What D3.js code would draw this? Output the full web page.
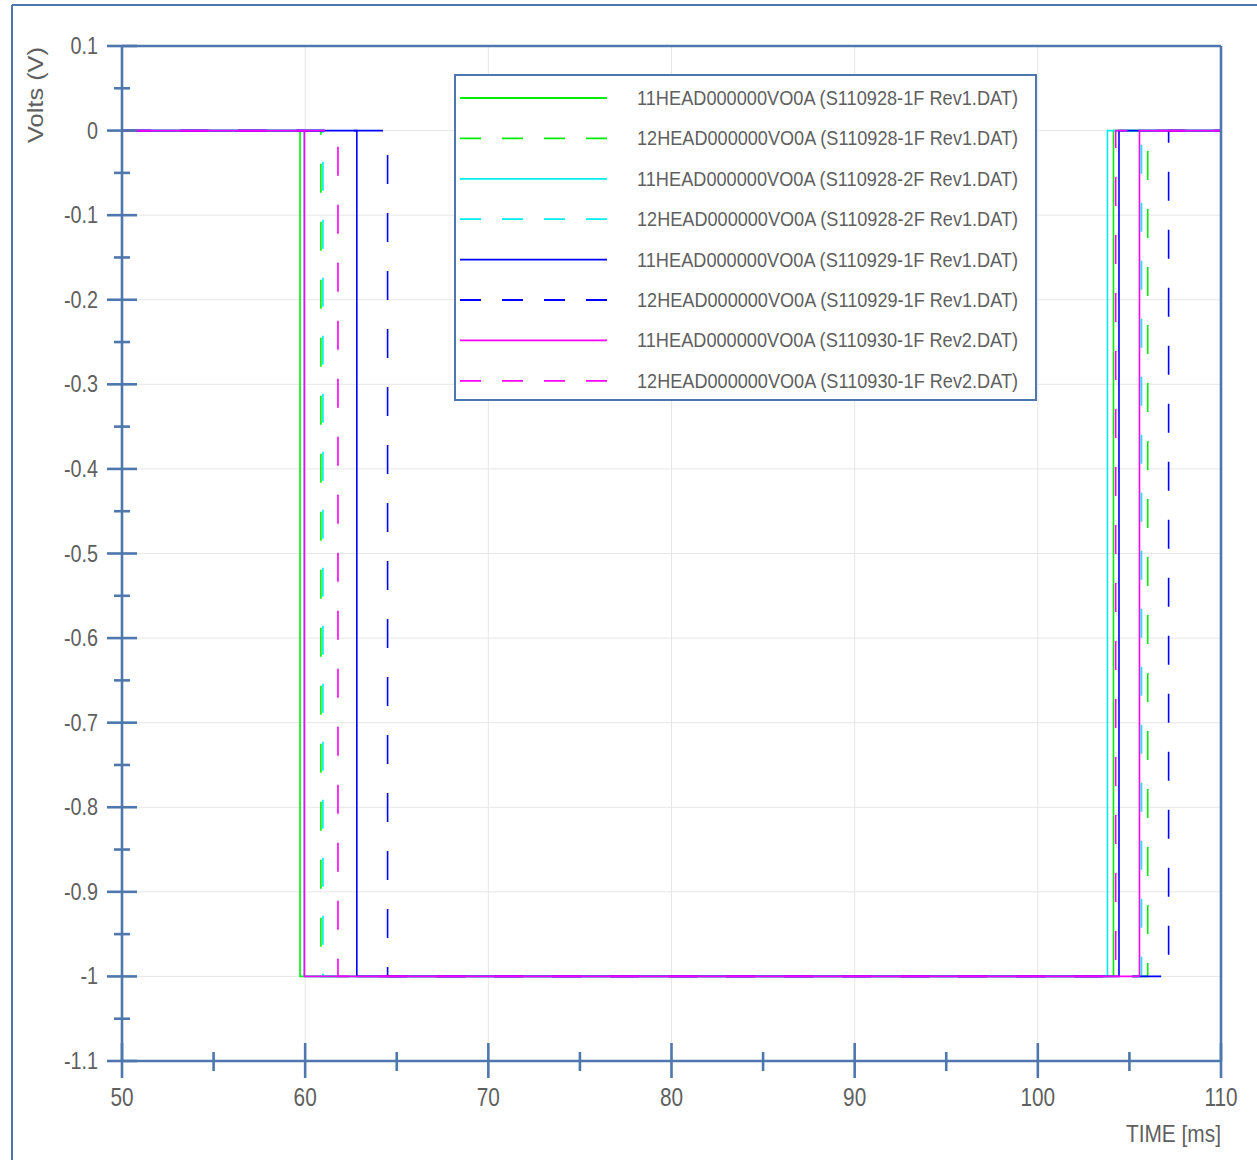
<!DOCTYPE html>
<html><head><meta charset="utf-8">
<script src="https://cdn.jsdelivr.net/npm/d3@7"></script>
<style>html,body{margin:0;padding:0;background:#fff;}svg{display:block;}</style>
</head><body>
<svg id="c" width="1257" height="1160"></svg>
<script>
// ---- data ----
const seriesNames = [
  "11HEAD000000VO0A (S110928-1F Rev1.DAT)",
  "12HEAD000000VO0A (S110928-1F Rev1.DAT)",
  "11HEAD000000VO0A (S110928-2F Rev1.DAT)",
  "12HEAD000000VO0A (S110928-2F Rev1.DAT)",
  "11HEAD000000VO0A (S110929-1F Rev1.DAT)",
  "12HEAD000000VO0A (S110929-1F Rev1.DAT)",
  "11HEAD000000VO0A (S110930-1F Rev2.DAT)",
  "12HEAD000000VO0A (S110930-1F Rev2.DAT)"
];
const seriesColors = ["#00ee00","#00ee00","#00eeee","#00eeee","#0000ff","#0000ff","#ff00ff","#ff00ff"];
const seriesDashed = [false,true,false,true,false,true,false,true];
// time (ms) where the signal falls from 0 V to -1 V, and where it returns to 0 V
const dropTimes = [59.72, 60.86, 59.95, 60.97, 62.82, 64.50, 59.96, 61.79];
const riseTimes = [104.13, 106.00, 103.80, 105.66, 104.43, 107.14, 105.55, 104.25];
const highLevel = 0, lowLevel = -1;
const tStart = 50, tEnd = 110;
const xTicks = [50,60,70,80,90,100,110];
const xMinorTicks = [55,65,75,85,95,105];
const yTicks = [0.1,0,-0.1,-0.2,-0.3,-0.4,-0.5,-0.6,-0.7,-0.8,-0.9,-1,-1.1];
const yTickLabels = ["0.1","0","-0.1","-0.2","-0.3","-0.4","-0.5","-0.6","-0.7","-0.8","-0.9","-1","-1.1"];
const yMinorTicks = [0.05,-0.05,-0.15,-0.25,-0.35,-0.45,-0.55,-0.65,-0.75,-0.85,-0.95,-1.05];

// ---- layout ----
const svg = d3.select("#c");
const L = 122, R = 1221, T = 46, B = 1061;
const x = d3.scaleLinear().domain([50,110]).range([L,R]);
const y = d3.scaleLinear().domain([-1.1,0.1]).range([B,T]);
const axisColor = "#4e77ad";
const textColor = "#5f5f5f";

function squeeze(sel, f){
  sel.each(function(){
    const w = this.getComputedTextLength();
    d3.select(this).attr("textLength", w*f).attr("lengthAdjust","spacingAndGlyphs");
  });
}

// outer frame
svg.append("line").attr("x1",12).attr("x2",1257).attr("y1",5).attr("y2",5).attr("stroke",axisColor).attr("stroke-width",2);
svg.append("line").attr("x1",12).attr("x2",12).attr("y1",5).attr("y2",1160).attr("stroke",axisColor).attr("stroke-width",2);

// grid
const grid = svg.append("g");
grid.selectAll("line.gx").data(xTicks.slice(1,-1)).join("line")
  .attr("x1",d=>x(d)).attr("x2",d=>x(d)).attr("y1",T).attr("y2",B)
  .attr("stroke","#e6e6e6").attr("stroke-width",1);
grid.selectAll("line.gy").data(yTicks.slice(1,-1)).join("line")
  .attr("x1",L).attr("x2",R).attr("y1",d=>y(d)).attr("y2",d=>y(d))
  .attr("stroke","#e6e6e6").attr("stroke-width",1);

// data lines
svg.append("clipPath").attr("id","clip").append("rect").attr("x",L).attr("y",T-2).attr("width",R-L).attr("height",B-T+4);
const lineGen = d3.line().x(d=>x(d[0])).y(d=>y(d[1]));
const plotG = svg.append("g").attr("clip-path","url(#clip)");
seriesNames.forEach((n,i)=>{
  const pts = [[tStart,highLevel],[dropTimes[i],highLevel],[dropTimes[i],lowLevel],
               [riseTimes[i],lowLevel],[riseTimes[i],highLevel],[tEnd,highLevel]];
  plotG.append("path").datum(pts).attr("d",lineGen)
    .attr("fill","none").attr("stroke",seriesColors[i]).attr("stroke-width",1.6)
    .attr("stroke-dasharray",seriesDashed[i]?"29,29":null);
});

// axes frame
const ax = svg.append("g").attr("stroke",axisColor).attr("stroke-width",2.6);
ax.append("line").attr("x1",L).attr("x2",R).attr("y1",T).attr("y2",T);
ax.append("line").attr("x1",R).attr("x2",R).attr("y1",T).attr("y2",B);
ax.append("line").attr("x1",L).attr("x2",L).attr("y1",T).attr("y2",B);
ax.append("line").attr("x1",L).attr("x2",R).attr("y1",B).attr("y2",B);
// y ticks
ax.selectAll("line.yt").data(yTicks).join("line")
  .attr("x1",L-15).attr("x2",L+15).attr("y1",d=>y(d)).attr("y2",d=>y(d));
ax.selectAll("line.ymt").data(yMinorTicks).join("line")
  .attr("x1",L-8).attr("x2",L+8).attr("y1",d=>y(d)).attr("y2",d=>y(d));
// x ticks
ax.selectAll("line.xt").data(xTicks).join("line")
  .attr("x1",d=>x(d)).attr("x2",d=>x(d)).attr("y1",B-18).attr("y2",B+17);
ax.selectAll("line.xmt").data(xMinorTicks).join("line")
  .attr("x1",d=>x(d)).attr("x2",d=>x(d)).attr("y1",B-9).attr("y2",B+10);

// tick labels
svg.append("g").selectAll("text").data(yTicks).join("text")
  .attr("x",98).attr("y",d=>y(d)+8).attr("text-anchor","end")
  .attr("font-family","Liberation Sans, Arial, sans-serif").attr("font-size",23)
  .attr("fill",textColor).text((d,i)=>yTickLabels[i]).call(squeeze,0.86);
svg.append("g").selectAll("text").data(xTicks).join("text")
  .attr("x",d=>x(d)).attr("y",1106).attr("text-anchor","middle")
  .attr("font-family","Liberation Sans, Arial, sans-serif").attr("font-size",26)
  .attr("fill",textColor).text(d=>String(d)).call(squeeze,0.8);

// axis titles
svg.append("text").attr("x",R).attr("y",1142).attr("text-anchor","end")
  .attr("font-family","Liberation Sans, Arial, sans-serif").attr("font-size",24)
  .attr("fill",textColor).text("TIME [ms]").call(squeeze,0.87);
svg.append("text").attr("transform","translate(43,95) rotate(-90)").attr("text-anchor","middle")
  .attr("font-family","Liberation Sans, Arial, sans-serif").attr("font-size",22)
  .attr("fill",textColor).text("Volts (V)").attr("textLength",96).attr("lengthAdjust","spacingAndGlyphs");

// legend
const lg = svg.append("g");
lg.append("rect").attr("x",455).attr("y",75).attr("width",581).attr("height",325)
  .attr("fill","#fff").attr("stroke",axisColor).attr("stroke-width",2);
seriesNames.forEach((n,i)=>{
  const ry = 98 + i*40.4;
  lg.append("line").attr("x1",460).attr("x2",607).attr("y1",ry).attr("y2",ry)
    .attr("stroke",seriesColors[i]).attr("stroke-width",1.8)
    .attr("stroke-dasharray",seriesDashed[i]?"21,21":null);
  lg.append("text").attr("x",637).attr("y",ry+7)
    .attr("font-family","Liberation Sans, Arial, sans-serif").attr("font-size",21)
    .attr("fill",textColor).text(n).attr("textLength",381).attr("lengthAdjust","spacingAndGlyphs");
});
</script>
</body></html>
